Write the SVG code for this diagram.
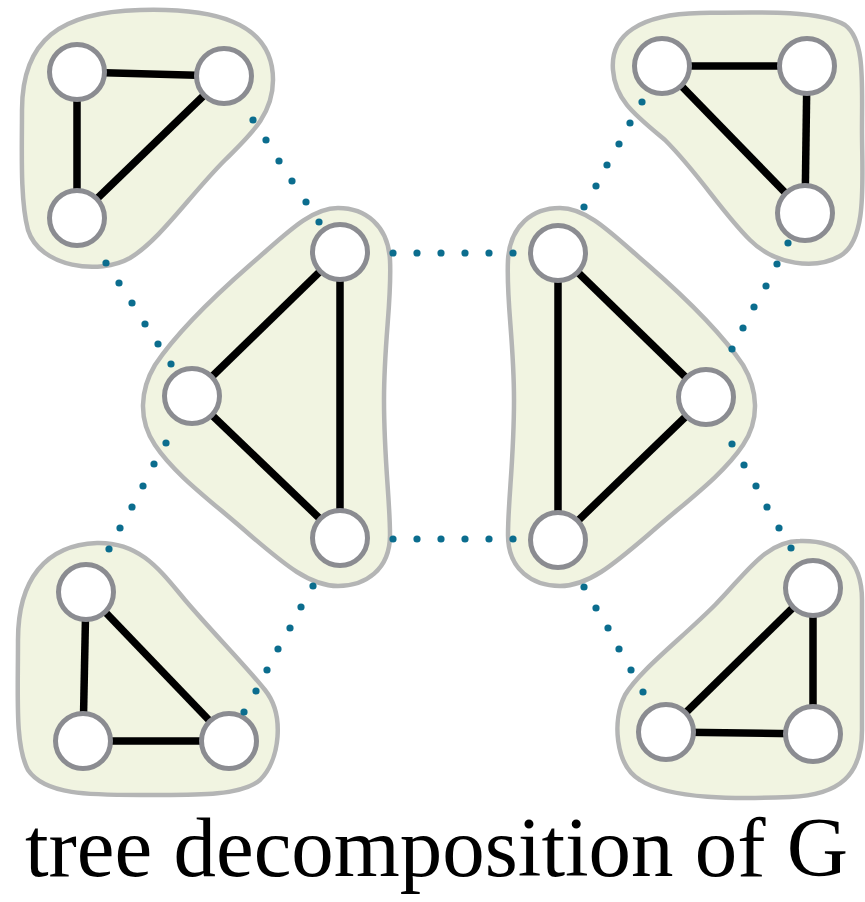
<svg xmlns="http://www.w3.org/2000/svg" width="865" height="902" viewBox="0 0 865 902">
<style>
.bag{fill:#f1f4e1;stroke:#b4b5b5;stroke-width:4.5}
.e{stroke:#000;stroke-width:7.5;fill:none}
.n{fill:#fff;stroke:#8b8c91;stroke-width:5}
.d{fill:#0b6d8e}
.t{font-family:"Liberation Serif","Times New Roman",serif;font-size:85px;fill:#000}
</style>
<rect width="865" height="902" fill="#fff"/>
<g id="bag-top-left">
<path class="bag" d="M 22,110 C 22,40 60,12 140,10 C 210,8 273,20 273,80 C 273,115 250,135 225,160 C 190,195 160,240 130,258 C 100,275 40,268 28,230 C 20,200 22,150 22,110 Z"/>
<line class="e" x1="77" y1="72" x2="224" y2="76"/>
<line class="e" x1="224" y1="76" x2="77" y2="218"/>
<line class="e" x1="77" y1="72" x2="77" y2="218"/>
<circle class="n" cx="77" cy="72" r="27.5"/>
<circle class="n" cx="224" cy="76" r="27.5"/>
<circle class="n" cx="77" cy="218" r="27.5"/>
</g>
<g id="bag-middle-left">
<path class="bag" d="M 338,208 C 365,208 388,225 390,260 C 392,300 384,340 384,400 C 384,460 390,500 390,535 C 390,570 365,586 338,586 C 310,586 285,565 250,535 C 210,500 175,475 155,445 C 138,420 140,390 155,365 C 175,335 210,300 250,265 C 285,235 310,208 338,208 Z"/>
<line class="e" x1="340" y1="252" x2="192" y2="396"/>
<line class="e" x1="192" y1="396" x2="340" y2="538"/>
<line class="e" x1="340" y1="252" x2="340" y2="538"/>
<circle class="n" cx="340" cy="252" r="27.5"/>
<circle class="n" cx="192" cy="396" r="27.5"/>
<circle class="n" cx="340" cy="538" r="27.5"/>
</g>
<g id="bag-middle-right">
<path class="bag" d="M 560,208 C 533,208 510,225 508,260 C 506,300 514,340 514,400 C 514,460 508,500 508,535 C 508,570 533,586 560,586 C 588,586 613,565 648,535 C 688,500 723,475 743,445 C 760,420 758,390 743,365 C 723,335 688,300 648,265 C 613,235 588,208 560,208 Z"/>
<line class="e" x1="558" y1="253" x2="706" y2="397"/>
<line class="e" x1="706" y1="397" x2="558" y2="540"/>
<line class="e" x1="558" y1="253" x2="558" y2="540"/>
<circle class="n" cx="558" cy="253" r="27.5"/>
<circle class="n" cx="706" cy="397" r="27.5"/>
<circle class="n" cx="558" cy="540" r="27.5"/>
</g>
<g id="bag-top-right">
<path class="bag" d="M 613,70 C 610,35 640,14 700,13 C 760,12 820,10 845,25 C 865,40 862,80 862,130 C 862,180 868,240 840,256 C 815,270 775,265 750,240 C 720,210 700,175 665,140 C 635,115 615,100 613,70 Z"/>
<line class="e" x1="662" y1="66" x2="807" y2="66"/>
<line class="e" x1="807" y1="66" x2="805" y2="213"/>
<line class="e" x1="662" y1="66" x2="805" y2="213"/>
<circle class="n" cx="662" cy="66" r="27.5"/>
<circle class="n" cx="807" cy="66" r="27.5"/>
<circle class="n" cx="805" cy="213" r="27.5"/>
</g>
<g id="bag-bottom-left">
<path class="bag" d="M 18,640 C 18,580 45,545 97,543 C 140,542 160,570 185,600 C 215,635 245,665 265,690 C 285,715 280,760 260,780 C 240,797 190,795 140,795 C 90,795 45,795 28,770 C 15,745 18,700 18,640 Z"/>
<line class="e" x1="86" y1="592" x2="83" y2="741"/>
<line class="e" x1="86" y1="592" x2="229" y2="741"/>
<line class="e" x1="83" y1="741" x2="229" y2="741"/>
<circle class="n" cx="86" cy="592" r="27.5"/>
<circle class="n" cx="83" cy="741" r="27.5"/>
<circle class="n" cx="229" cy="741" r="27.5"/>
</g>
<g id="bag-bottom-right">
<path class="bag" d="M 800,541 C 840,540 862,560 862,600 L 862,730 C 862,775 840,795 790,797 C 740,799 670,800 640,780 C 615,765 612,720 625,695 C 640,670 680,640 715,605 C 745,575 765,541 800,541 Z"/>
<line class="e" x1="813" y1="588" x2="666" y2="732"/>
<line class="e" x1="813" y1="588" x2="813" y2="734"/>
<line class="e" x1="666" y1="732" x2="813" y2="734"/>
<circle class="n" cx="813" cy="588" r="27.5"/>
<circle class="n" cx="666" cy="732" r="27.5"/>
<circle class="n" cx="813" cy="734" r="27.5"/>
</g>
<g id="connectors">
<g id="c1"><circle class="d" cx="253" cy="120" r="3.6"/><circle class="d" cx="266" cy="140" r="3.6"/><circle class="d" cx="279" cy="161" r="3.6"/><circle class="d" cx="292" cy="181" r="3.6"/><circle class="d" cx="306" cy="202" r="3.6"/><circle class="d" cx="319" cy="222" r="3.6"/></g>
<g id="c2"><circle class="d" cx="106" cy="263" r="3.6"/><circle class="d" cx="119" cy="283" r="3.6"/><circle class="d" cx="132" cy="303" r="3.6"/><circle class="d" cx="145" cy="324" r="3.6"/><circle class="d" cx="158" cy="344" r="3.6"/><circle class="d" cx="171" cy="364" r="3.6"/></g>
<g id="c3"><circle class="d" cx="166" cy="443" r="3.6"/><circle class="d" cx="154" cy="464" r="3.6"/><circle class="d" cx="143" cy="486" r="3.6"/><circle class="d" cx="132" cy="507" r="3.6"/><circle class="d" cx="120" cy="528" r="3.6"/><circle class="d" cx="109" cy="549" r="3.6"/></g>
<g id="c4"><circle class="d" cx="313" cy="586" r="3.6"/><circle class="d" cx="301" cy="607" r="3.6"/><circle class="d" cx="290" cy="628" r="3.6"/><circle class="d" cx="278" cy="649" r="3.6"/><circle class="d" cx="267" cy="670" r="3.6"/><circle class="d" cx="256" cy="691" r="3.6"/><circle class="d" cx="244" cy="712" r="3.6"/></g>
<g id="c5"><circle class="d" cx="393" cy="253" r="3.6"/><circle class="d" cx="417" cy="253" r="3.6"/><circle class="d" cx="441" cy="253" r="3.6"/><circle class="d" cx="465" cy="253" r="3.6"/><circle class="d" cx="489" cy="253" r="3.6"/><circle class="d" cx="513" cy="253" r="3.6"/></g>
<g id="c6"><circle class="d" cx="393" cy="539" r="3.6"/><circle class="d" cx="417" cy="539" r="3.6"/><circle class="d" cx="441" cy="539" r="3.6"/><circle class="d" cx="465" cy="539" r="3.6"/><circle class="d" cx="489" cy="539" r="3.6"/><circle class="d" cx="513" cy="539" r="3.6"/></g>
<g id="c7"><circle class="d" cx="642" cy="102" r="3.6"/><circle class="d" cx="630" cy="123" r="3.6"/><circle class="d" cx="619" cy="144" r="3.6"/><circle class="d" cx="607" cy="165" r="3.6"/><circle class="d" cx="596" cy="186" r="3.6"/><circle class="d" cx="584" cy="207" r="3.6"/></g>
<g id="c8"><circle class="d" cx="788" cy="243" r="3.6"/><circle class="d" cx="777" cy="264" r="3.6"/><circle class="d" cx="766" cy="286" r="3.6"/><circle class="d" cx="754" cy="307" r="3.6"/><circle class="d" cx="743" cy="328" r="3.6"/><circle class="d" cx="732" cy="349" r="3.6"/></g>
<g id="c9"><circle class="d" cx="732" cy="444" r="3.6"/><circle class="d" cx="744" cy="465" r="3.6"/><circle class="d" cx="756" cy="486" r="3.6"/><circle class="d" cx="767" cy="507" r="3.6"/><circle class="d" cx="779" cy="528" r="3.6"/><circle class="d" cx="791" cy="548" r="3.6"/></g>
<g id="c10"><circle class="d" cx="584" cy="587" r="3.6"/><circle class="d" cx="596" cy="608" r="3.6"/><circle class="d" cx="608" cy="628" r="3.6"/><circle class="d" cx="619" cy="649" r="3.6"/><circle class="d" cx="631" cy="670" r="3.6"/><circle class="d" cx="643" cy="692" r="3.6"/></g>
</g>
<text class="t" x="25" y="876" textLength="823" lengthAdjust="spacingAndGlyphs">tree decomposition of G</text>
</svg>
